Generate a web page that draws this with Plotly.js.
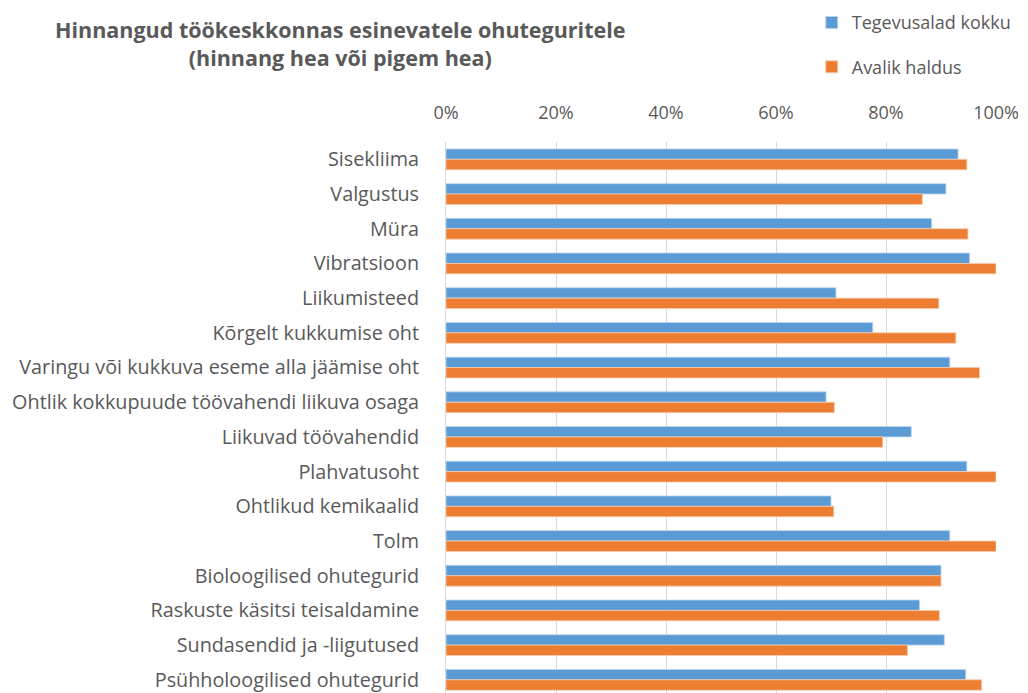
<!DOCTYPE html>
<html>
<head>
<meta charset="utf-8">
<script src="https://cdn.plot.ly/plotly-3.0.1.min.js"></script>
<style>html,body{margin:0;padding:0;background:#fff;}#chart{width:1028px;height:693px;}</style>
</head>
<body>
<div id="chart"></div>
<script>
const categories = [
  "Sisekliima",
  "Valgustus",
  "Müra",
  "Vibratsioon",
  "Liikumisteed",
  "Kõrgelt kukkumise oht",
  "Varingu või kukkuva eseme alla jäämise oht",
  "Ohtlik kokkupuude töövahendi liikuva osaga",
  "Liikuvad töövahendid",
  "Plahvatusoht",
  "Ohtlikud kemikaalid",
  "Tolm",
  "Bioloogilised ohutegurid",
  "Raskuste käsitsi teisaldamine",
  "Sundasendid ja -liigutused",
  "Psühholoogilised ohutegurid"
];
const tegevusaladKokku = [0.931, 0.909, 0.883, 0.952, 0.709, 0.776, 0.916, 0.691, 0.846, 0.947, 0.700, 0.916, 0.900, 0.861, 0.906, 0.945];
const avalikHaldus     = [0.947, 0.866, 0.949, 1.000, 0.896, 0.927, 0.970, 0.706, 0.794, 1.000, 0.705, 1.000, 0.900, 0.897, 0.839, 0.974];
const seriesNames = ["Tegevusalad kokku", "Avalik haldus"];
const tickVals = [0, 0.2, 0.4, 0.6, 0.8, 1.0];

const FONT = "Open Sans, Noto Sans, sans-serif";
const GREY = "#595959";

const traces = [
  {type: "bar", orientation: "h", name: seriesNames[0], y: categories, x: tegevusaladKokku,
   marker: {color: "#5B9BD5", line: {color: "#BDD7EE", width: 0.8}}, legendgroup: "a", hoverinfo: "x+y"},
  {type: "bar", orientation: "h", name: seriesNames[1], y: categories, x: avalikHaldus,
   marker: {color: "#ED7D31", line: {color: "#F8CBAD", width: 0.8}}, legendgroup: "b", hoverinfo: "x+y"}
];

const layout = {
  width: 1028, height: 693,
  paper_bgcolor: "#fff", plot_bgcolor: "#fff",
  margin: {l: 446, r: 32, t: 142, b: 0, pad: 0},
  font: {family: FONT, color: GREY, size: 18},
  title: {
    text: "<b>Hinnangud töökeskkonnas esinevatele ohuteguritele<br>(hinnang hea või pigem hea)</b>",
    font: {family: FONT, size: 21.5, color: GREY},
    x: 0.331, xanchor: "center", xref: "container",
    y: 0.945, yanchor: "top", yref: "container"
  },
  barmode: "group",
  bargap: 0.4,
  bargroupgap: 0,
  xaxis: {
    side: "top", range: [0, 1], tickvals: tickVals, tickformat: ".0%",
    showgrid: true, gridcolor: "#D9D9D9", gridwidth: 1, zeroline: false,
    ticks: "outside", ticklen: 15, tickcolor: "rgba(0,0,0,0)",
    tickfont: {family: FONT, size: 18, color: GREY},
    fixedrange: true
  },
  yaxis: {
    type: "category", range: [15.38, -0.5], autorange: false,
    showline: true, linecolor: "#D9D9D9", linewidth: 1,
    showgrid: false, zeroline: false,
    ticks: "outside", ticklen: 22, tickcolor: "rgba(0,0,0,0)",
    tickfont: {family: FONT, size: 19.8, color: GREY},
    fixedrange: true
  },
  showlegend: true,
  legend: {
    x: 0.665, xanchor: "left", xref: "paper",
    y: 1.25, yanchor: "top", yref: "paper",
    orientation: "v", traceorder: "grouped", tracegroupgap: 18,
    font: {family: FONT, size: 18, color: GREY},
    bgcolor: "rgba(0,0,0,0)", itemwidth: 30
  }
};

Plotly.newPlot("chart", traces, layout, {displayModeBar: false, staticPlot: true});
</script>
</body>
</html>
